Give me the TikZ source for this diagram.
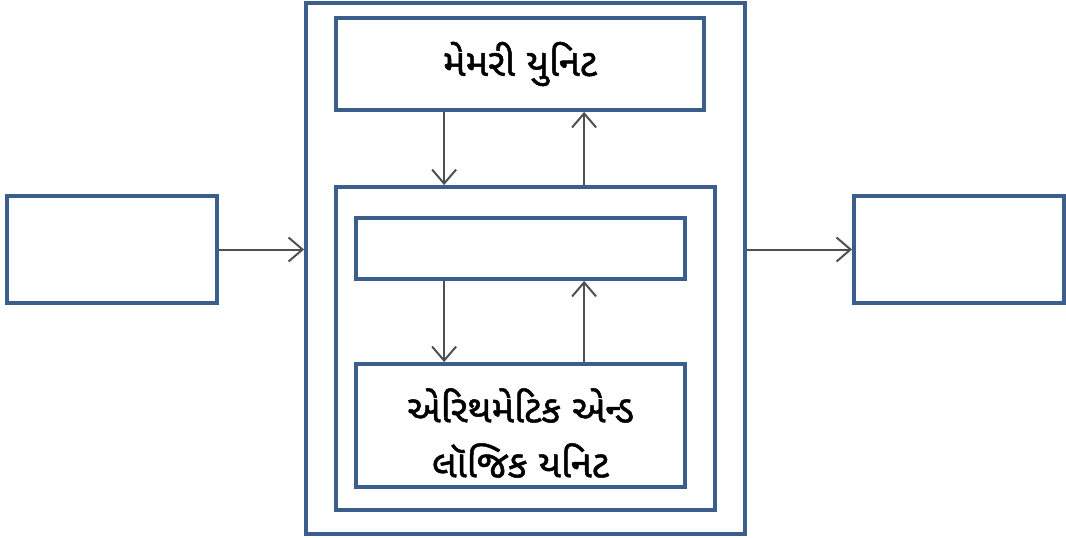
\documentclass[tikz,border=0pt]{standalone}
\usepackage{fontspec}
\newfontfamily\gujfont[Script=Gujarati,FakeBold=1.3]{Noto Sans Gujarati UI}
\usetikzlibrary{arrows.meta}
\definecolor{boxblue}{HTML}{3B5E8C}
\definecolor{flowgray}{HTML}{505050}

\begin{document}
\begin{tikzpicture}[x=1pt,y=-1pt,
    unit/.style={draw=boxblue, line width=3.8pt, inner sep=0pt, align=center,
      font=\gujfont\fontsize{38}{55}\selectfont},
    flow/.style={draw=flowgray, line width=2pt, -{Straight Barb[length=14pt,width=24pt,line width=2pt]}}
    ]
    \useasboundingbox (0,0) rectangle (1066,538);

    \node[unit, minimum width=210, minimum height=107] (input) at (112,249.5) {};
    \node[unit, minimum width=210, minimum height=107] (output) at (959,249.5) {};
    \node[unit, minimum width=439, minimum height=531] (cpu) at (525.5,268.5) {};
    \node[unit, minimum width=368, minimum height=92] (memory) at (520,64) {મેમરી યુનિટ};
    \node[unit, minimum width=379, minimum height=323] (core) at (525.5,348.5) {};
    \node[unit, minimum width=329, minimum height=61] (register) at (520.5,248.5) {};
    \node[unit, minimum width=329, minimum height=123] (alu) at (520.5,425.5) {};
    \node[font=\gujfont\fontsize{38}{55}\selectfont, align=center] (alutext) at (520.5,433) {એરિથમેટિક એન્ડ\\લૉજિક યનિટ};

    % input and output
    \draw[flow] (input.east) -- (input.east -| cpu.west);
    \draw[flow] (output.west -| cpu.east) -- (output.west);

    % memory <-> core
    \draw[flow] ([xshift=110]memory.south west) -- ([xshift=110]memory.south west |- core.north);
    \draw[flow] ([xshift=250]memory.south west |- core.north) -- ([xshift=250]memory.south west);

    % register <-> alu
    \draw[flow] ([xshift=90]register.south west) -- ([xshift=90]register.south west |- alu.north);
    \draw[flow] ([xshift=230]register.south west |- alu.north) -- ([xshift=230]register.south west);
    %
\end{tikzpicture}
\end{document}
